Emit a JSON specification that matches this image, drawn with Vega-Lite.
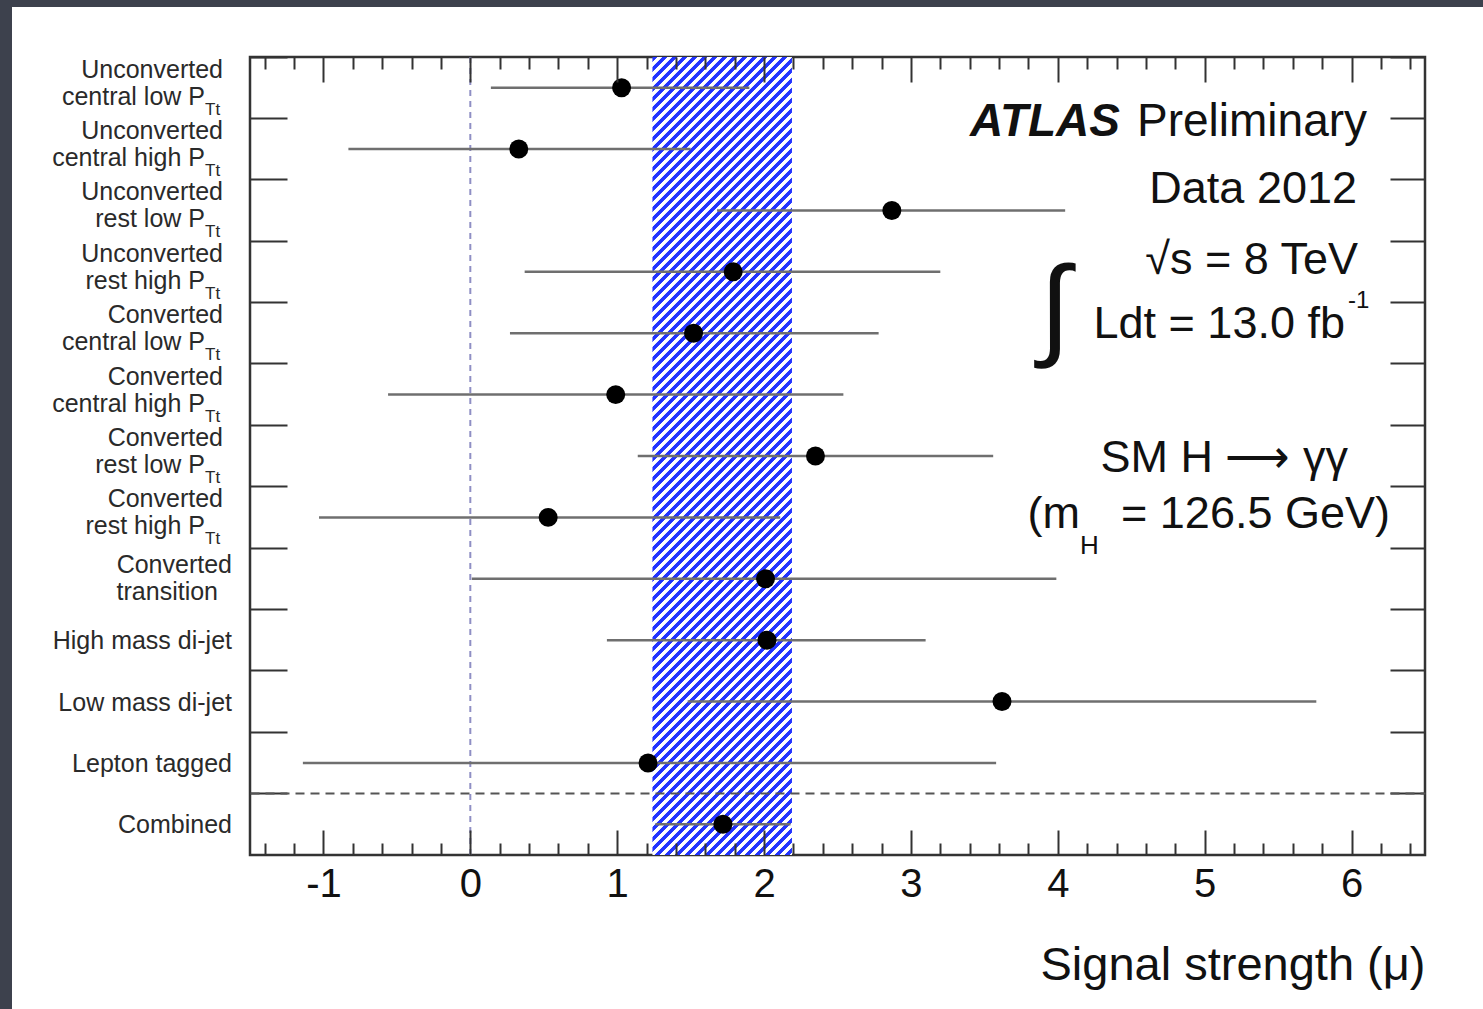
{
  "$schema": "https://vega.github.io/schema/vega-lite/v6.json",
  "background": "white",
  "padding": 0,
  "spacing": 0,
  "config": {"view": {"stroke": null}, "font": "Liberation Sans"},
  "datasets": {
    "rows": [
      {"cat": "Unconverted central low", "mu": 1.03, "lo": 0.14, "hi": 1.90, "top": "Unconverted", "bot": "central low P", "sub": "Tt"},
      {"cat": "Unconverted central high", "mu": 0.33, "lo": -0.83, "hi": 1.50, "top": "Unconverted", "bot": "central high P", "sub": "Tt"},
      {"cat": "Unconverted rest low", "mu": 2.87, "lo": 1.68, "hi": 4.05, "top": "Unconverted", "bot": "rest low P", "sub": "Tt"},
      {"cat": "Unconverted rest high", "mu": 1.79, "lo": 0.37, "hi": 3.20, "top": "Unconverted", "bot": "rest high P", "sub": "Tt"},
      {"cat": "Converted central low", "mu": 1.52, "lo": 0.27, "hi": 2.78, "top": "Converted", "bot": "central low P", "sub": "Tt"},
      {"cat": "Converted central high", "mu": 0.99, "lo": -0.56, "hi": 2.54, "top": "Converted", "bot": "central high P", "sub": "Tt"},
      {"cat": "Converted rest low", "mu": 2.35, "lo": 1.14, "hi": 3.56, "top": "Converted", "bot": "rest low P", "sub": "Tt"},
      {"cat": "Converted rest high", "mu": 0.53, "lo": -1.03, "hi": 2.11, "top": "Converted", "bot": "rest high P", "sub": "Tt"},
      {"cat": "Converted transition", "mu": 2.01, "lo": 0.01, "hi": 3.99, "top2": "Converted", "bot2": "transition"},
      {"cat": "High mass di-jet", "mu": 2.02, "lo": 0.93, "hi": 3.10, "mid": "High mass di-jet"},
      {"cat": "Low mass di-jet", "mu": 3.62, "lo": 1.48, "hi": 5.76, "mid": "Low mass di-jet"},
      {"cat": "Lepton tagged", "mu": 1.21, "lo": -1.14, "hi": 3.58, "mid": "Lepton tagged"},
      {"cat": "Combined", "mu": 1.72, "lo": 1.26, "hi": 2.18, "mid": "Combined"}
    ],
    "band": [{"lo": 1.24, "hi": 2.19}],
    "one": [{}]
  },
  "vconcat": [
    {"width": 1483, "height": 7, "view": {"fill": "#3d414d", "stroke": null}, "data": {"values": []}, "mark": "rect"},
    {
      "spacing": 38,
      "hconcat": [
        {"width": 12, "height": 1002, "view": {"fill": "#3d414d", "stroke": null}, "data": {"values": []}, "mark": "rect"},
        {
          "spacing": 46,
          "vconcat": [
            {"width": 1, "height": 1, "data": {"values": []}, "mark": "rect"},
            {
              "width": 1175,
              "height": 798,
              "view": {"stroke": "#333", "strokeWidth": 2.5},
              "data": {"name": "rows"},
              "resolve": {"axis": {"x": "independent", "y": "independent"}},
              "layer": [
                {
                  "data": {"name": "band"},
                  "mark": {"type": "rect", "stroke": null, "fill": {"gradient": "linear", "x1": 0, "y1": 0, "x2": 0.2126, "y2": 1.216, "stops": [
{"offset":0.00,"color":"#23f"},{"offset":0.0045,"color":"#23f"},{"offset":0.0055,"color":"#fff"},{"offset":0.0095,"color":"#fff"},
{"offset":0.01,"color":"#23f"},{"offset":0.0145,"color":"#23f"},{"offset":0.0155,"color":"#fff"},{"offset":0.0195,"color":"#fff"},
{"offset":0.02,"color":"#23f"},{"offset":0.0245,"color":"#23f"},{"offset":0.0255,"color":"#fff"},{"offset":0.0295,"color":"#fff"},
{"offset":0.03,"color":"#23f"},{"offset":0.0345,"color":"#23f"},{"offset":0.0355,"color":"#fff"},{"offset":0.0395,"color":"#fff"},
{"offset":0.04,"color":"#23f"},{"offset":0.0445,"color":"#23f"},{"offset":0.0455,"color":"#fff"},{"offset":0.0495,"color":"#fff"},
{"offset":0.05,"color":"#23f"},{"offset":0.0545,"color":"#23f"},{"offset":0.0555,"color":"#fff"},{"offset":0.0595,"color":"#fff"},
{"offset":0.06,"color":"#23f"},{"offset":0.0645,"color":"#23f"},{"offset":0.0655,"color":"#fff"},{"offset":0.0695,"color":"#fff"},
{"offset":0.07,"color":"#23f"},{"offset":0.0745,"color":"#23f"},{"offset":0.0755,"color":"#fff"},{"offset":0.0795,"color":"#fff"},
{"offset":0.08,"color":"#23f"},{"offset":0.0845,"color":"#23f"},{"offset":0.0855,"color":"#fff"},{"offset":0.0895,"color":"#fff"},
{"offset":0.09,"color":"#23f"},{"offset":0.0945,"color":"#23f"},{"offset":0.0955,"color":"#fff"},{"offset":0.0995,"color":"#fff"},
{"offset":0.10,"color":"#23f"},{"offset":0.1045,"color":"#23f"},{"offset":0.1055,"color":"#fff"},{"offset":0.1095,"color":"#fff"},
{"offset":0.11,"color":"#23f"},{"offset":0.1145,"color":"#23f"},{"offset":0.1155,"color":"#fff"},{"offset":0.1195,"color":"#fff"},
{"offset":0.12,"color":"#23f"},{"offset":0.1245,"color":"#23f"},{"offset":0.1255,"color":"#fff"},{"offset":0.1295,"color":"#fff"},
{"offset":0.13,"color":"#23f"},{"offset":0.1345,"color":"#23f"},{"offset":0.1355,"color":"#fff"},{"offset":0.1395,"color":"#fff"},
{"offset":0.14,"color":"#23f"},{"offset":0.1445,"color":"#23f"},{"offset":0.1455,"color":"#fff"},{"offset":0.1495,"color":"#fff"},
{"offset":0.15,"color":"#23f"},{"offset":0.1545,"color":"#23f"},{"offset":0.1555,"color":"#fff"},{"offset":0.1595,"color":"#fff"},
{"offset":0.16,"color":"#23f"},{"offset":0.1645,"color":"#23f"},{"offset":0.1655,"color":"#fff"},{"offset":0.1695,"color":"#fff"},
{"offset":0.17,"color":"#23f"},{"offset":0.1745,"color":"#23f"},{"offset":0.1755,"color":"#fff"},{"offset":0.1795,"color":"#fff"},
{"offset":0.18,"color":"#23f"},{"offset":0.1845,"color":"#23f"},{"offset":0.1855,"color":"#fff"},{"offset":0.1895,"color":"#fff"},
{"offset":0.19,"color":"#23f"},{"offset":0.1945,"color":"#23f"},{"offset":0.1955,"color":"#fff"},{"offset":0.1995,"color":"#fff"},
{"offset":0.20,"color":"#23f"},{"offset":0.2045,"color":"#23f"},{"offset":0.2055,"color":"#fff"},{"offset":0.2095,"color":"#fff"},
{"offset":0.21,"color":"#23f"},{"offset":0.2145,"color":"#23f"},{"offset":0.2155,"color":"#fff"},{"offset":0.2195,"color":"#fff"},
{"offset":0.22,"color":"#23f"},{"offset":0.2245,"color":"#23f"},{"offset":0.2255,"color":"#fff"},{"offset":0.2295,"color":"#fff"},
{"offset":0.23,"color":"#23f"},{"offset":0.2345,"color":"#23f"},{"offset":0.2355,"color":"#fff"},{"offset":0.2395,"color":"#fff"},
{"offset":0.24,"color":"#23f"},{"offset":0.2445,"color":"#23f"},{"offset":0.2455,"color":"#fff"},{"offset":0.2495,"color":"#fff"},
{"offset":0.25,"color":"#23f"},{"offset":0.2545,"color":"#23f"},{"offset":0.2555,"color":"#fff"},{"offset":0.2595,"color":"#fff"},
{"offset":0.26,"color":"#23f"},{"offset":0.2645,"color":"#23f"},{"offset":0.2655,"color":"#fff"},{"offset":0.2695,"color":"#fff"},
{"offset":0.27,"color":"#23f"},{"offset":0.2745,"color":"#23f"},{"offset":0.2755,"color":"#fff"},{"offset":0.2795,"color":"#fff"},
{"offset":0.28,"color":"#23f"},{"offset":0.2845,"color":"#23f"},{"offset":0.2855,"color":"#fff"},{"offset":0.2895,"color":"#fff"},
{"offset":0.29,"color":"#23f"},{"offset":0.2945,"color":"#23f"},{"offset":0.2955,"color":"#fff"},{"offset":0.2995,"color":"#fff"},
{"offset":0.30,"color":"#23f"},{"offset":0.3045,"color":"#23f"},{"offset":0.3055,"color":"#fff"},{"offset":0.3095,"color":"#fff"},
{"offset":0.31,"color":"#23f"},{"offset":0.3145,"color":"#23f"},{"offset":0.3155,"color":"#fff"},{"offset":0.3195,"color":"#fff"},
{"offset":0.32,"color":"#23f"},{"offset":0.3245,"color":"#23f"},{"offset":0.3255,"color":"#fff"},{"offset":0.3295,"color":"#fff"},
{"offset":0.33,"color":"#23f"},{"offset":0.3345,"color":"#23f"},{"offset":0.3355,"color":"#fff"},{"offset":0.3395,"color":"#fff"},
{"offset":0.34,"color":"#23f"},{"offset":0.3445,"color":"#23f"},{"offset":0.3455,"color":"#fff"},{"offset":0.3495,"color":"#fff"},
{"offset":0.35,"color":"#23f"},{"offset":0.3545,"color":"#23f"},{"offset":0.3555,"color":"#fff"},{"offset":0.3595,"color":"#fff"},
{"offset":0.36,"color":"#23f"},{"offset":0.3645,"color":"#23f"},{"offset":0.3655,"color":"#fff"},{"offset":0.3695,"color":"#fff"},
{"offset":0.37,"color":"#23f"},{"offset":0.3745,"color":"#23f"},{"offset":0.3755,"color":"#fff"},{"offset":0.3795,"color":"#fff"},
{"offset":0.38,"color":"#23f"},{"offset":0.3845,"color":"#23f"},{"offset":0.3855,"color":"#fff"},{"offset":0.3895,"color":"#fff"},
{"offset":0.39,"color":"#23f"},{"offset":0.3945,"color":"#23f"},{"offset":0.3955,"color":"#fff"},{"offset":0.3995,"color":"#fff"},
{"offset":0.40,"color":"#23f"},{"offset":0.4045,"color":"#23f"},{"offset":0.4055,"color":"#fff"},{"offset":0.4095,"color":"#fff"},
{"offset":0.41,"color":"#23f"},{"offset":0.4145,"color":"#23f"},{"offset":0.4155,"color":"#fff"},{"offset":0.4195,"color":"#fff"},
{"offset":0.42,"color":"#23f"},{"offset":0.4245,"color":"#23f"},{"offset":0.4255,"color":"#fff"},{"offset":0.4295,"color":"#fff"},
{"offset":0.43,"color":"#23f"},{"offset":0.4345,"color":"#23f"},{"offset":0.4355,"color":"#fff"},{"offset":0.4395,"color":"#fff"},
{"offset":0.44,"color":"#23f"},{"offset":0.4445,"color":"#23f"},{"offset":0.4455,"color":"#fff"},{"offset":0.4495,"color":"#fff"},
{"offset":0.45,"color":"#23f"},{"offset":0.4545,"color":"#23f"},{"offset":0.4555,"color":"#fff"},{"offset":0.4595,"color":"#fff"},
{"offset":0.46,"color":"#23f"},{"offset":0.4645,"color":"#23f"},{"offset":0.4655,"color":"#fff"},{"offset":0.4695,"color":"#fff"},
{"offset":0.47,"color":"#23f"},{"offset":0.4745,"color":"#23f"},{"offset":0.4755,"color":"#fff"},{"offset":0.4795,"color":"#fff"},
{"offset":0.48,"color":"#23f"},{"offset":0.4845,"color":"#23f"},{"offset":0.4855,"color":"#fff"},{"offset":0.4895,"color":"#fff"},
{"offset":0.49,"color":"#23f"},{"offset":0.4945,"color":"#23f"},{"offset":0.4955,"color":"#fff"},{"offset":0.4995,"color":"#fff"},
{"offset":0.50,"color":"#23f"},{"offset":0.5045,"color":"#23f"},{"offset":0.5055,"color":"#fff"},{"offset":0.5095,"color":"#fff"},
{"offset":0.51,"color":"#23f"},{"offset":0.5145,"color":"#23f"},{"offset":0.5155,"color":"#fff"},{"offset":0.5195,"color":"#fff"},
{"offset":0.52,"color":"#23f"},{"offset":0.5245,"color":"#23f"},{"offset":0.5255,"color":"#fff"},{"offset":0.5295,"color":"#fff"},
{"offset":0.53,"color":"#23f"},{"offset":0.5345,"color":"#23f"},{"offset":0.5355,"color":"#fff"},{"offset":0.5395,"color":"#fff"},
{"offset":0.54,"color":"#23f"},{"offset":0.5445,"color":"#23f"},{"offset":0.5455,"color":"#fff"},{"offset":0.5495,"color":"#fff"},
{"offset":0.55,"color":"#23f"},{"offset":0.5545,"color":"#23f"},{"offset":0.5555,"color":"#fff"},{"offset":0.5595,"color":"#fff"},
{"offset":0.56,"color":"#23f"},{"offset":0.5645,"color":"#23f"},{"offset":0.5655,"color":"#fff"},{"offset":0.5695,"color":"#fff"},
{"offset":0.57,"color":"#23f"},{"offset":0.5745,"color":"#23f"},{"offset":0.5755,"color":"#fff"},{"offset":0.5795,"color":"#fff"},
{"offset":0.58,"color":"#23f"},{"offset":0.5845,"color":"#23f"},{"offset":0.5855,"color":"#fff"},{"offset":0.5895,"color":"#fff"},
{"offset":0.59,"color":"#23f"},{"offset":0.5945,"color":"#23f"},{"offset":0.5955,"color":"#fff"},{"offset":0.5995,"color":"#fff"},
{"offset":0.60,"color":"#23f"},{"offset":0.6045,"color":"#23f"},{"offset":0.6055,"color":"#fff"},{"offset":0.6095,"color":"#fff"},
{"offset":0.61,"color":"#23f"},{"offset":0.6145,"color":"#23f"},{"offset":0.6155,"color":"#fff"},{"offset":0.6195,"color":"#fff"},
{"offset":0.62,"color":"#23f"},{"offset":0.6245,"color":"#23f"},{"offset":0.6255,"color":"#fff"},{"offset":0.6295,"color":"#fff"},
{"offset":0.63,"color":"#23f"},{"offset":0.6345,"color":"#23f"},{"offset":0.6355,"color":"#fff"},{"offset":0.6395,"color":"#fff"},
{"offset":0.64,"color":"#23f"},{"offset":0.6445,"color":"#23f"},{"offset":0.6455,"color":"#fff"},{"offset":0.6495,"color":"#fff"},
{"offset":0.65,"color":"#23f"},{"offset":0.6545,"color":"#23f"},{"offset":0.6555,"color":"#fff"},{"offset":0.6595,"color":"#fff"},
{"offset":0.66,"color":"#23f"},{"offset":0.6645,"color":"#23f"},{"offset":0.6655,"color":"#fff"},{"offset":0.6695,"color":"#fff"},
{"offset":0.67,"color":"#23f"},{"offset":0.6745,"color":"#23f"},{"offset":0.6755,"color":"#fff"},{"offset":0.6795,"color":"#fff"},
{"offset":0.68,"color":"#23f"},{"offset":0.6845,"color":"#23f"},{"offset":0.6855,"color":"#fff"},{"offset":0.6895,"color":"#fff"},
{"offset":0.69,"color":"#23f"},{"offset":0.6945,"color":"#23f"},{"offset":0.6955,"color":"#fff"},{"offset":0.6995,"color":"#fff"},
{"offset":0.70,"color":"#23f"},{"offset":0.7045,"color":"#23f"},{"offset":0.7055,"color":"#fff"},{"offset":0.7095,"color":"#fff"},
{"offset":0.71,"color":"#23f"},{"offset":0.7145,"color":"#23f"},{"offset":0.7155,"color":"#fff"},{"offset":0.7195,"color":"#fff"},
{"offset":0.72,"color":"#23f"},{"offset":0.7245,"color":"#23f"},{"offset":0.7255,"color":"#fff"},{"offset":0.7295,"color":"#fff"},
{"offset":0.73,"color":"#23f"},{"offset":0.7345,"color":"#23f"},{"offset":0.7355,"color":"#fff"},{"offset":0.7395,"color":"#fff"},
{"offset":0.74,"color":"#23f"},{"offset":0.7445,"color":"#23f"},{"offset":0.7455,"color":"#fff"},{"offset":0.7495,"color":"#fff"},
{"offset":0.75,"color":"#23f"},{"offset":0.7545,"color":"#23f"},{"offset":0.7555,"color":"#fff"},{"offset":0.7595,"color":"#fff"},
{"offset":0.76,"color":"#23f"},{"offset":0.7645,"color":"#23f"},{"offset":0.7655,"color":"#fff"},{"offset":0.7695,"color":"#fff"},
{"offset":0.77,"color":"#23f"},{"offset":0.7745,"color":"#23f"},{"offset":0.7755,"color":"#fff"},{"offset":0.7795,"color":"#fff"},
{"offset":0.78,"color":"#23f"},{"offset":0.7845,"color":"#23f"},{"offset":0.7855,"color":"#fff"},{"offset":0.7895,"color":"#fff"},
{"offset":0.79,"color":"#23f"},{"offset":0.7945,"color":"#23f"},{"offset":0.7955,"color":"#fff"},{"offset":0.7995,"color":"#fff"},
{"offset":0.80,"color":"#23f"},{"offset":0.8045,"color":"#23f"},{"offset":0.8055,"color":"#fff"},{"offset":0.8095,"color":"#fff"},
{"offset":0.81,"color":"#23f"},{"offset":0.8145,"color":"#23f"},{"offset":0.8155,"color":"#fff"},{"offset":0.8195,"color":"#fff"},
{"offset":0.82,"color":"#23f"},{"offset":0.8245,"color":"#23f"},{"offset":0.8255,"color":"#fff"},{"offset":0.8295,"color":"#fff"},
{"offset":0.83,"color":"#23f"},{"offset":0.8345,"color":"#23f"},{"offset":0.8355,"color":"#fff"},{"offset":0.8395,"color":"#fff"},
{"offset":0.84,"color":"#23f"},{"offset":0.8445,"color":"#23f"},{"offset":0.8455,"color":"#fff"},{"offset":0.8495,"color":"#fff"},
{"offset":0.85,"color":"#23f"},{"offset":0.8545,"color":"#23f"},{"offset":0.8555,"color":"#fff"},{"offset":0.8595,"color":"#fff"},
{"offset":0.86,"color":"#23f"},{"offset":0.8645,"color":"#23f"},{"offset":0.8655,"color":"#fff"},{"offset":0.8695,"color":"#fff"},
{"offset":0.87,"color":"#23f"},{"offset":0.8745,"color":"#23f"},{"offset":0.8755,"color":"#fff"},{"offset":0.8795,"color":"#fff"},
{"offset":0.88,"color":"#23f"},{"offset":0.8845,"color":"#23f"},{"offset":0.8855,"color":"#fff"},{"offset":0.8895,"color":"#fff"},
{"offset":0.89,"color":"#23f"},{"offset":0.8945,"color":"#23f"},{"offset":0.8955,"color":"#fff"},{"offset":0.8995,"color":"#fff"},
{"offset":0.90,"color":"#23f"},{"offset":0.9045,"color":"#23f"},{"offset":0.9055,"color":"#fff"},{"offset":0.9095,"color":"#fff"},
{"offset":0.91,"color":"#23f"},{"offset":0.9145,"color":"#23f"},{"offset":0.9155,"color":"#fff"},{"offset":0.9195,"color":"#fff"},
{"offset":0.92,"color":"#23f"},{"offset":0.9245,"color":"#23f"},{"offset":0.9255,"color":"#fff"},{"offset":0.9295,"color":"#fff"},
{"offset":0.93,"color":"#23f"},{"offset":0.9345,"color":"#23f"},{"offset":0.9355,"color":"#fff"},{"offset":0.9395,"color":"#fff"},
{"offset":0.94,"color":"#23f"},{"offset":0.9445,"color":"#23f"},{"offset":0.9455,"color":"#fff"},{"offset":0.9495,"color":"#fff"}
                  ]}},
                  "encoding": {
                    "x": {"field": "lo", "type": "quantitative", "scale": {"domain": [-1.5, 6.5], "nice": false, "zero": false},
                      "axis": {"orient": "bottom", "zindex": 1,
                        "values": [-1.4,-1.2,-1,-0.8,-0.6,-0.4,-0.2,0,0.2,0.4,0.6,0.8,1,1.2,1.4,1.6,1.8,2,2.2,2.4,2.6,2.8,3,3.2,3.4,3.6,3.8,4,4.2,4.4,4.6,4.8,5,5.2,5.4,5.6,5.8,6,6.2,6.4],
                        "domain": false, "ticks": false, "tickSize": 0,
                        "grid": true, "gridColor": "#333", "gridWidth": 2, "gridOpacity": 1,
                        "gridDash": {"condition": {"test": "abs(datum.value - round(datum.value)) < 0.001", "value": [25, 2000]}, "value": [12, 2000]},
                        "labelExpr": "abs(datum.value - round(datum.value)) < 0.001 ? '' + round(datum.value) : ''",
                        "labelFontSize": 40, "labelColor": "#111", "labelPadding": 9, "labelFlush": false, "labelOverlap": false, "labelBound": false,
                        "title": "Signal strength (μ)", "titleFontSize": 47, "titleFontWeight": "normal", "titleColor": "#111",
                        "titleAnchor": "end", "titleAlign": "right", "titlePadding": 38}},
                    "x2": {"field": "hi"}
                  }
                },
                {
                  "data": {"name": "one"},
                  "mark": {"type": "rule", "color": "#8f8fc4", "strokeWidth": 2, "strokeDash": [6, 5]},
                  "encoding": {"x": {"datum": 0, "type": "quantitative", "axis": null}}
                },
                {
                  "mark": {"type": "rule", "color": "#6f6f6f", "strokeWidth": 2.5},
                  "encoding": {
                    "x": {"field": "lo", "type": "quantitative",
                      "axis": {"orient": "top", "zindex": 1,
                        "values": [-1.4,-1.2,-1,-0.8,-0.6,-0.4,-0.2,0,0.2,0.4,0.6,0.8,1,1.2,1.4,1.6,1.8,2,2.2,2.4,2.6,2.8,3,3.2,3.4,3.6,3.8,4,4.2,4.4,4.6,4.8,5,5.2,5.4,5.6,5.8,6,6.2,6.4],
                        "domain": false, "ticks": false, "labels": false, "title": null,
                        "grid": true, "gridColor": "#333", "gridWidth": 2, "gridOpacity": 1,
                        "gridDash": {"condition": {"test": "abs(datum.value - round(datum.value)) < 0.001", "value": [25, 2000]}, "value": [12, 2000]}}},
                    "x2": {"field": "hi"},
                    "y": {"field": "cat", "type": "nominal",
                      "scale": {"type": "band", "paddingInner": 0, "paddingOuter": 0,
                        "domain": ["Unconverted central low", "Unconverted central high", "Unconverted rest low", "Unconverted rest high", "Converted central low", "Converted central high", "Converted rest low", "Converted rest high", "Converted transition", "High mass di-jet", "Low mass di-jet", "Lepton tagged", "Combined"]},
                      "axis": {"orient": "left", "zindex": 1, "bandPosition": 0, "domain": false, "ticks": false, "labels": false, "title": null,
                        "grid": true, "gridColor": "#333", "gridWidth": 2, "gridOpacity": 1, "gridDash": [37, 3000]}}
                  }
                },
                {
                  "mark": {"type": "circle", "color": "black", "size": 360, "opacity": 1},
                  "encoding": {
                    "x": {"field": "mu", "type": "quantitative", "axis": null},
                    "y": {"field": "cat", "type": "nominal",
                      "axis": {"orient": "right", "zindex": 1, "bandPosition": 0, "domain": false, "ticks": false, "labels": false, "title": null,
                        "grid": true, "gridColor": "#333", "gridWidth": 2, "gridOpacity": 1, "gridDash": [35, 3000]}}
                  }
                },
                {
                  "transform": [{"filter": "datum.top"}],
                  "mark": {"type": "text", "align": "right", "baseline": "alphabetic", "dx": -27, "dy": -10, "fontSize": 25, "color": "#2a2a2a"},
                  "encoding": {
                    "x": {"datum": -1.5, "type": "quantitative", "axis": null},
                    "y": {"field": "cat", "type": "nominal",
                      "axis": {"orient": "left", "zindex": 1, "bandPosition": 0, "values": ["Combined"], "domain": false, "ticks": false, "labels": false, "title": null,
                        "grid": true, "gridColor": "#555", "gridWidth": 2, "gridOpacity": 1, "gridDash": [9, 6]}},
                    "text": {"field": "top"}
                  }
                },
                {
                  "transform": [{"filter": "datum.bot"}],
                  "mark": {"type": "text", "align": "right", "baseline": "alphabetic", "dx": -45, "dy": 17, "fontSize": 25, "color": "#2a2a2a"},
                  "encoding": {
                    "x": {"datum": -1.5, "type": "quantitative", "axis": null},
                    "y": {"field": "cat", "type": "nominal", "axis": null},
                    "text": {"field": "bot"}
                  }
                },
                {
                  "transform": [{"filter": "datum.sub"}],
                  "mark": {"type": "text", "align": "left", "baseline": "alphabetic", "dx": -45, "dy": 27, "fontSize": 17, "color": "#2a2a2a"},
                  "encoding": {
                    "x": {"datum": -1.5, "type": "quantitative", "axis": null},
                    "y": {"field": "cat", "type": "nominal", "axis": null},
                    "text": {"field": "sub"}
                  }
                },
                {
                  "transform": [{"filter": "datum.top2"}],
                  "mark": {"type": "text", "align": "right", "baseline": "alphabetic", "dx": -18, "dy": -6, "fontSize": 25, "color": "#2a2a2a"},
                  "encoding": {
                    "x": {"datum": -1.5, "type": "quantitative", "axis": null},
                    "y": {"field": "cat", "type": "nominal", "axis": null},
                    "text": {"field": "top2"}
                  }
                },
                {
                  "transform": [{"filter": "datum.bot2"}],
                  "mark": {"type": "text", "align": "right", "baseline": "alphabetic", "dx": -32, "dy": 21, "fontSize": 25, "color": "#2a2a2a"},
                  "encoding": {
                    "x": {"datum": -1.5, "type": "quantitative", "axis": null},
                    "y": {"field": "cat", "type": "nominal", "axis": null},
                    "text": {"field": "bot2"}
                  }
                },
                {
                  "transform": [{"filter": "datum.mid"}],
                  "mark": {"type": "text", "align": "right", "baseline": "alphabetic", "dx": -18, "dy": 9, "fontSize": 25, "color": "#2a2a2a"},
                  "encoding": {
                    "x": {"datum": -1.5, "type": "quantitative", "axis": null},
                    "y": {"field": "cat", "type": "nominal", "axis": null},
                    "text": {"field": "mid"}
                  }
                },
                {
                  "data": {"name": "one"},
                  "mark": {"type": "text", "text": "ATLAS", "align": "right", "baseline": "alphabetic", "dx": -305, "dy": -13, "fontSize": 46, "fontWeight": "bold", "fontStyle": "italic", "color": "#111"},
                  "encoding": {"x": {"datum": 6.5, "type": "quantitative", "axis": null}, "y": {"datum": "Unconverted central high", "type": "nominal", "axis": null}}
                },
                {
                  "data": {"name": "one"},
                  "mark": {"type": "text", "text": "Preliminary", "align": "left", "baseline": "alphabetic", "dx": -288, "dy": -13, "fontSize": 46, "color": "#111"},
                  "encoding": {"x": {"datum": 6.5, "type": "quantitative", "axis": null}, "y": {"datum": "Unconverted central high", "type": "nominal", "axis": null}}
                },
                {
                  "data": {"name": "one"},
                  "mark": {"type": "text", "text": "Data 2012", "align": "right", "baseline": "alphabetic", "dx": -68, "dy": -7, "fontSize": 45, "color": "#111"},
                  "encoding": {"x": {"datum": 6.5, "type": "quantitative", "axis": null}, "y": {"datum": "Unconverted rest low", "type": "nominal", "axis": null}}
                },
                {
                  "data": {"name": "one"},
                  "mark": {"type": "text", "text": "√s = 8 TeV", "align": "right", "baseline": "alphabetic", "dx": -67, "dy": 2, "fontSize": 45, "color": "#111"},
                  "encoding": {"x": {"datum": 6.5, "type": "quantitative", "axis": null}, "y": {"datum": "Unconverted rest high", "type": "nominal", "axis": null}}
                },
                {
                  "data": {"name": "one"},
                  "mark": {"type": "text", "text": "∫", "align": "center", "baseline": "middle", "dx": -370, "dy": -22, "fontSize": 112, "color": "#111"},
                  "encoding": {"x": {"datum": 6.5, "type": "quantitative", "axis": null}, "y": {"datum": "Converted central low", "type": "nominal", "axis": null}}
                },
                {
                  "data": {"name": "one"},
                  "mark": {"type": "text", "text": "Ldt = 13.0 fb", "align": "right", "baseline": "alphabetic", "dx": -80, "dy": 5, "fontSize": 45, "color": "#111"},
                  "encoding": {"x": {"datum": 6.5, "type": "quantitative", "axis": null}, "y": {"datum": "Converted central low", "type": "nominal", "axis": null}}
                },
                {
                  "data": {"name": "one"},
                  "mark": {"type": "text", "text": "-1", "align": "left", "baseline": "alphabetic", "dx": -77, "dy": -25, "fontSize": 24, "color": "#111"},
                  "encoding": {"x": {"datum": 6.5, "type": "quantitative", "axis": null}, "y": {"datum": "Converted central low", "type": "nominal", "axis": null}}
                },
                {
                  "data": {"name": "one"},
                  "mark": {"type": "text", "text": "SM H ⟶ γγ", "align": "right", "baseline": "alphabetic", "dx": -77, "dy": 16, "fontSize": 45, "color": "#111"},
                  "encoding": {"x": {"datum": 6.5, "type": "quantitative", "axis": null}, "y": {"datum": "Converted rest low", "type": "nominal", "axis": null}}
                },
                {
                  "data": {"name": "one"},
                  "mark": {"type": "text", "text": "(m", "align": "right", "baseline": "alphabetic", "dx": -345, "dy": 11, "fontSize": 45, "color": "#111"},
                  "encoding": {"x": {"datum": 6.5, "type": "quantitative", "axis": null}, "y": {"datum": "Converted rest high", "type": "nominal", "axis": null}}
                },
                {
                  "data": {"name": "one"},
                  "mark": {"type": "text", "text": "H", "align": "left", "baseline": "alphabetic", "dx": -345, "dy": 37, "fontSize": 26, "color": "#111"},
                  "encoding": {"x": {"datum": 6.5, "type": "quantitative", "axis": null}, "y": {"datum": "Converted rest high", "type": "nominal", "axis": null}}
                },
                {
                  "data": {"name": "one"},
                  "mark": {"type": "text", "text": "= 126.5 GeV)", "align": "right", "baseline": "alphabetic", "dx": -35, "dy": 11, "fontSize": 45, "color": "#111"},
                  "encoding": {"x": {"datum": 6.5, "type": "quantitative", "axis": null}, "y": {"datum": "Converted rest high", "type": "nominal", "axis": null}}
                }
              ]
            }
          ]
        }
      ]
    }
  ]
}
